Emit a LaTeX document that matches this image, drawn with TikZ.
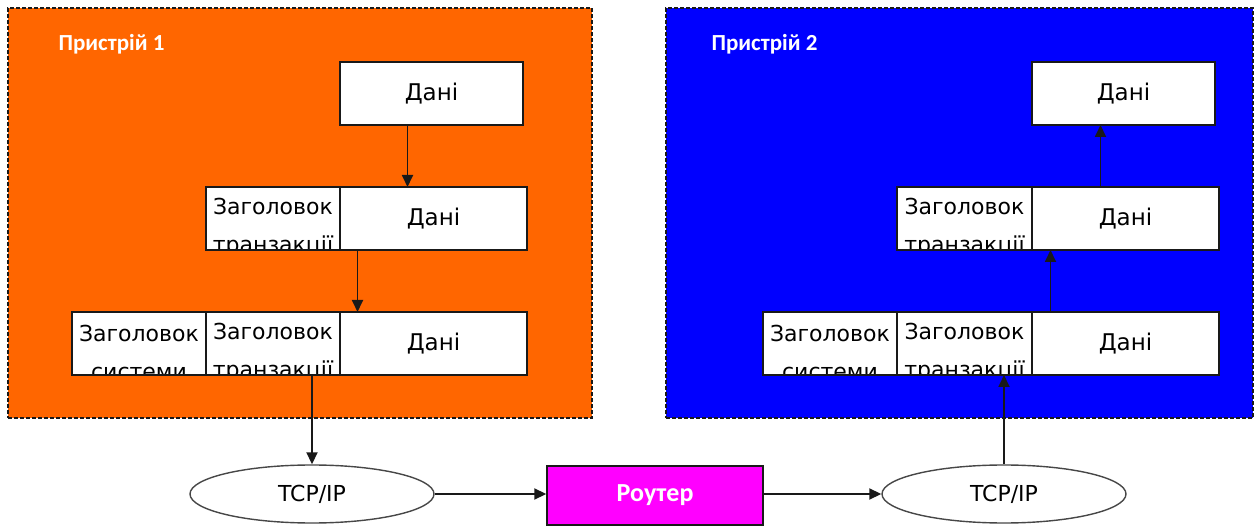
\documentclass[tikz,border=0pt]{standalone}
\usepackage{fontspec}
\setmainfont{DejaVu Sans}
\newfontfamily\titlefont{Carlito}
\usetikzlibrary{arrows.meta,shapes.geometric}
\definecolor{devorange}{RGB}{255,102,0}
\definecolor{devblue}{RGB}{0,0,255}
\definecolor{routermag}{RGB}{255,0,255}
\definecolor{ink}{RGB}{25,25,25}
\begin{document}
\begin{tikzpicture}[x=1pt,y=-1pt,
  devbox/.style={rectangle, draw=ink, line width=1.3pt, dash pattern=on 4pt off 2pt,
    anchor=north west, minimum width=#1, minimum height=410pt, inner sep=0pt, outer sep=0pt},
  devtitle/.style={anchor=west, text=white, font=\titlefont\bfseries\fontsize{23}{26}\selectfont},
  cell/.style={rectangle, draw=ink, line width=1.8pt, fill=white, anchor=north west,
    minimum height=63pt, minimum width=#1, inner sep=0pt, outer sep=0pt},
  cellfont/.style={anchor=center, draw=none, fill=none, font=\fontsize{22}{38}\selectfont,
    align=center, inner sep=0pt, minimum width=0pt, minimum height=0pt},
  ctext/.style={path picture={\node[cellfont] at ([yshift=-9pt]path picture bounding box.center) {#1};}},
  dtext/.style={path picture={\node[cellfont, font=\fontsize{23}{28}\selectfont] at (path picture bounding box.center) {#1};}},
  arr/.style={-{Triangle[length=12pt,width=11pt]}, line width=1.8pt, draw=ink},
  proto/.style={ellipse, draw=ink!80, line width=1.4pt, fill=white, minimum width=244pt,
    minimum height=58pt, inner sep=0pt, font=\fontsize{22}{26}\selectfont},
  router/.style={rectangle, draw=ink, line width=1.4pt, fill=routermag, minimum width=216pt,
    minimum height=59pt, inner sep=0pt, text=white, font=\titlefont\bfseries\fontsize{26}{30}\selectfont}
]
\useasboundingbox (0,0) rectangle (1259,526);

% device frames
\node[devbox=584pt, fill=devorange] (dev1) at (8,8) {};
\node[devbox=587pt, fill=devblue] (dev2) at (666,8) {};
\node[devtitle] (t1) at (55,44) {Пристрій 1};
\node[devtitle] (t2) at (708,44) {Пристрій 2};

% sender stack
\node[cell=183pt, dtext={Дані}] (L1) at (340,62) {};
\node[cell=134pt, ctext={Заголовок\\транзакції}] (L2h) at (206,187) {};
\node[cell=187pt, dtext={Дані}] (L2d) at (340,187) {};
\node[cell=134pt, ctext={Заголовок\\системи}] (L3s) at (72,312) {};
\node[cell=134pt, ctext={Заголовок\\транзакції}] (L3t) at (206,312) {};
\node[cell=187pt, dtext={Дані}] (L3d) at (340,312) {};

% receiver stack
\node[cell=183pt, dtext={Дані}] (R1) at (1032,62) {};
\node[cell=135pt, ctext={Заголовок\\транзакції}] (R2h) at (897,187) {};
\node[cell=187pt, dtext={Дані}] (R2d) at (1032,187) {};
\node[cell=134pt, ctext={Заголовок\\системи}] (R3s) at (763,312) {};
\node[cell=135pt, ctext={Заголовок\\транзакції}] (R3t) at (897,312) {};
\node[cell=187pt, dtext={Дані}] (R3d) at (1032,312) {};

% network path
\node[proto] (E1) at (312,494) {TCP/IP};
\node[router] (RT) at (655,495.5) {Роутер};
\node[proto] (E2) at (1004,494) {TCP/IP};

% encapsulation arrows
\draw[arr] ([xshift=-24pt]L1.south) -- ([xshift=-24pt]L1.south |- L2d.north);
\draw[arr] ([xshift=-76pt]L2d.south) -- ([xshift=-76pt]L2d.south |- L3d.north);
\draw[arr] (E1.north |- L3t.south) -- (E1.north);

% decapsulation arrows
\draw[arr] (E2.north) -- (E2.north |- R3t.south);
\draw[arr] ([xshift=-75pt]R3d.north) -- ([xshift=-75pt]R3d.north |- R2d.south);
\draw[arr] ([xshift=-25pt]R2d.north) -- ([xshift=-25pt]R2d.north |- R1.south);

% transfer through the router
\draw[arr] (E1.east) -- (E1.east -| RT.west);
\draw[arr] (RT.east |- E2.west) -- (E2.west);
\end{tikzpicture}
\end{document}
